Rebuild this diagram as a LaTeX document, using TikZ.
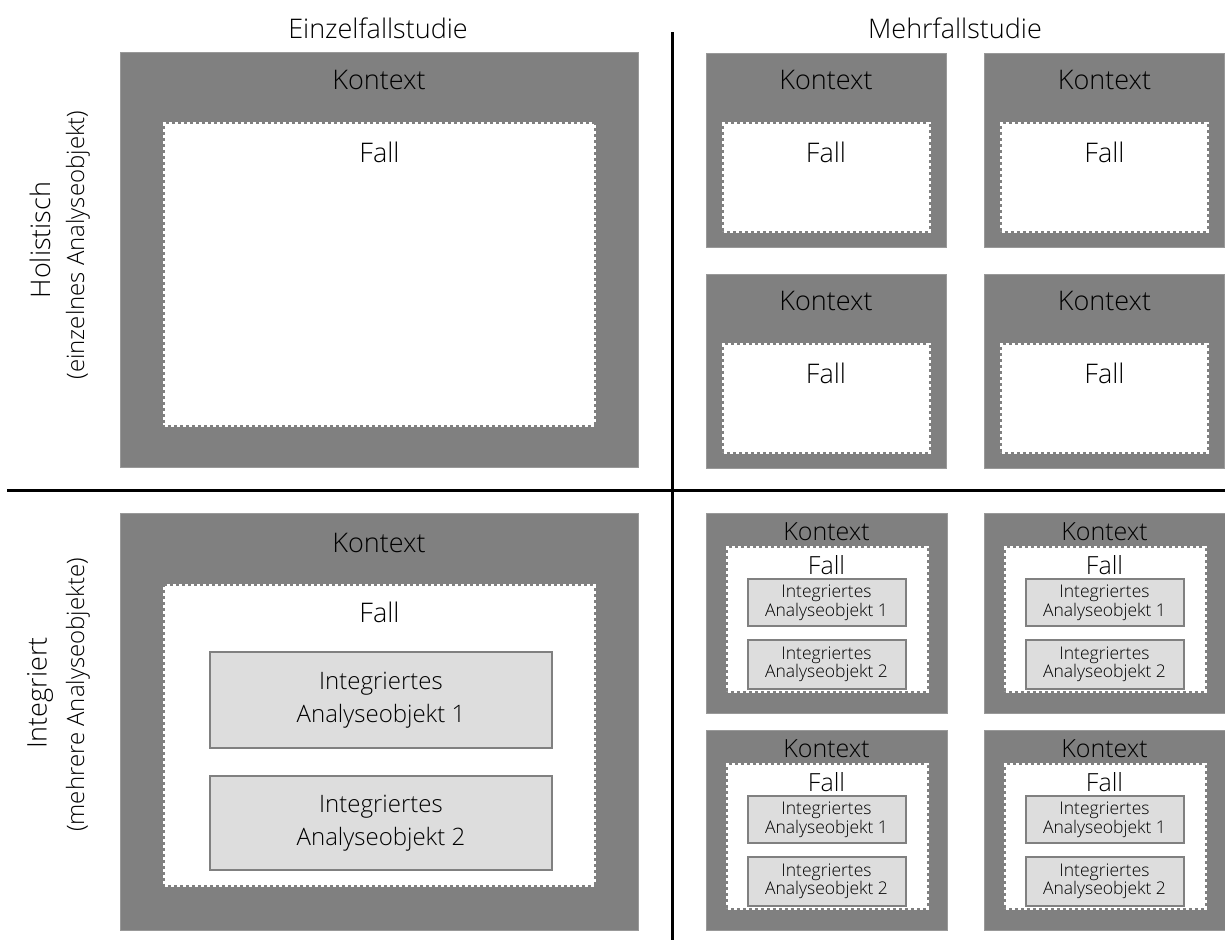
\documentclass[tikz,border=0pt]{standalone}
\usepackage{fontspec}
\setmainfont{Open Sans}[UprightFont=* Light]
\definecolor{ctxgray}{HTML}{808080}
\definecolor{objgray}{HTML}{DDDDDD}
\tikzset{
  kontext/.style={fill=ctxgray, draw=ctxgray!80, line width=1pt, inner sep=0pt},
  fall/.style={fill=white, draw=white, dash pattern=on 3pt off 3pt, line width=4pt, inner sep=0pt},
  objekt/.style={fill=objgray, draw=ctxgray, line width=2.5pt, inner sep=0pt, align=center,
    font=\fontsize{24}{33}\selectfont},
  smallobj/.style={objekt, line width=2pt, font=\fontsize{17.5}{18.5}\selectfont},
  bigtxt/.style={font=\fontsize{27}{32}\selectfont, inner sep=0pt},
  midtxt/.style={font=\fontsize{25}{30}\selectfont, inner sep=0pt},
  subtxt/.style={font=\fontsize{24}{28}\selectfont, inner sep=0pt},
}
\begin{document}
\begin{tikzpicture}[x=1pt, y=-1pt]
    \useasboundingbox (0,0) rectangle (1225,940);

    % separators
    \draw [line width=3pt] (672,32) -- (672,940);
    \draw [line width=3pt] (7,490) -- (1225,490);

    % column titles
    \node [bigtxt] (einzel) at (378,28) {Einzelfallstudie};
    \node [bigtxt] (mehr) at (955,28) {Mehrfallstudie};

    % row titles
    \node [bigtxt, rotate=90] (holist) at (40,240) {Holistisch};
    \node [subtxt, rotate=90] (holistsub) at (78,245) {(einzelnes Analyseobjekt)};
    \node [bigtxt, rotate=90] (integ) at (40,693) {Integriert};
    \node [subtxt, rotate=90] (integsub) at (78,695) {(mehrere Analyseobjekte)};

    % holistic single case
    \node [kontext, minimum width=518, minimum height=415] (ctxA) at (379,259.5) {};
    \node [fall, minimum width=429, minimum height=301] (fallA) at (379.5,274.5) {};
    \node [bigtxt] (ctxAlbl) at (379,80) {Kontext};
    \node [bigtxt] (fallAlbl) at (379.5,152) {Fall};

    % holistic multiple cases
    \foreach \cx/\cy/\nm in {826/150/B1, 1104.5/150/B2, 826/371/B3, 1104.5/371/B4} {
      \node [kontext, minimum width=240, minimum height=194] (ctx\nm) at (\cx,\cy) {};
      \node [fall, minimum width=205, minimum height=107] (fall\nm) at (\cx,\cy+27.5) {};
      \node [bigtxt] (ctx\nm lbl) at (\cx,\cy-70) {Kontext};
      \node [bigtxt] (fall\nm lbl) at (\cx,\cy+2) {Fall};
    }

    % embedded single case
    \node [kontext, minimum width=518, minimum height=417] (ctxC) at (379,721.5) {};
    \node [fall, minimum width=429, minimum height=299] (fallC) at (379.5,735.5) {};
    \node [bigtxt] (ctxClbl) at (379,543) {Kontext};
    \node [bigtxt] (fallClbl) at (379.5,612) {Fall};
    \node [objekt, minimum width=342, minimum height=96] (objC1) at (381,700)
      {Integriertes\\Analyseobjekt 1};
    \node [objekt, minimum width=342, minimum height=94] (objC2) at (381,823)
      {Integriertes\\Analyseobjekt 2};

    % embedded multiple cases
    \foreach \cx/\cy/\nm in {826.5/613/D1, 1104.5/613/D2, 826.5/830/D3, 1104.5/830/D4} {
      \node [kontext, minimum width=241, minimum height=200] (ctx\nm) at (\cx,\cy) {};
      \node [fall, minimum width=199, minimum height=143] (fall\nm) at (\cx+1,\cy+6) {};
      \node [midtxt] (ctx\nm lbl) at (\cx,\cy-81) {Kontext};
      \node [midtxt] (fall\nm lbl) at (\cx,\cy-48) {Fall};
      \node [smallobj, minimum width=158, minimum height=47] (obj\nm a) at (\cx,\cy-10.5)
        {Integriertes\\Analyseobjekt 1};
      \node [smallobj, minimum width=158, minimum height=49] (obj\nm b) at (\cx,\cy+51)
        {Integriertes\\Analyseobjekt 2};
    }

\end{tikzpicture}
\end{document}
